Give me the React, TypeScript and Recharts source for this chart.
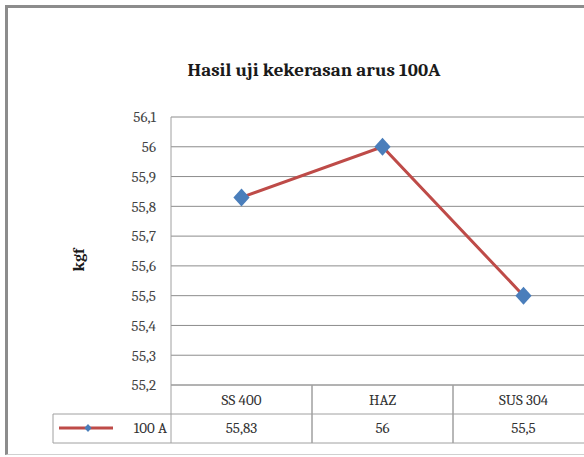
import React from 'react';
import { LineChart, Line, XAxis, YAxis, CartesianGrid } from 'recharts';

const categories = ['SS 400', 'HAZ', 'SUS 304'];
const hardness100A = [55.83, 56, 55.5];
const seriesName = '100 A';
const yTicks = [55.2, 55.3, 55.4, 55.5, 55.6, 55.7, 55.8, 55.9, 56, 56.1];

const data = categories.map((name, i) => ({ name, value: hardness100A[i] }));

// comma decimals, like the source sheet
const fmt = (v: number) => String(Number(v.toFixed(2))).replace('.', ',');

const CHART_W = 640;
const CHART_H = 457;
const PLOT_LEFT = 171;
const PLOT_RIGHT = 594;
const CELL = (PLOT_RIGHT - PLOT_LEFT) / categories.length;
const ROW = 29;
const FONT = 'Caladea, Cambria, "Liberation Serif", serif';
const LINE_RED = '#be4b48';
const MARKER_BLUE = '#4a7ebb';
const TABLE_GRAY = '#a0a0a0';

const Diamond = (props: any) => {
  const { cx, cy, size = 9 } = props;
  if (cx == null || cy == null) return null;
  const w = size * 0.9;
  return (
    <polygon
      points={`${cx},${cy - size} ${cx + w},${cy} ${cx},${cy + size} ${cx - w},${cy}`}
      fill={MARKER_BLUE}
    />
  );
};

// x-axis tick draws one column of the data table
const TableTick = (props: any) => {
  const { x, y, index } = props;
  const half = CELL / 2;
  const l = x - half;
  const r = x + half;
  return (
    <g style={{ fontFamily: FONT }} fontSize={15} fill="#333">
      <line x1={l} y1={y} x2={l} y2={y + ROW * 2} stroke={TABLE_GRAY} />
      <line x1={r} y1={y} x2={r} y2={y + ROW * 2} stroke={TABLE_GRAY} />
      <line x1={l} y1={y + ROW} x2={r} y2={y + ROW} stroke={TABLE_GRAY} />
      <line x1={l} y1={y + ROW * 2} x2={r} y2={y + ROW * 2} stroke={TABLE_GRAY} />
      <text x={x} y={y + 20} textAnchor="middle" style={{ fontFamily: FONT }}>{categories[index]}</text>
      <text x={x} y={y + ROW + 19} textAnchor="middle" style={{ fontFamily: FONT }}>{fmt(hardness100A[index])}</text>
      {index === 0 && (
        <g>
          <line x1={53} y1={y + ROW} x2={l} y2={y + ROW} stroke={TABLE_GRAY} />
          <line x1={53} y1={y + ROW * 2} x2={l} y2={y + ROW * 2} stroke={TABLE_GRAY} />
          <line x1={53} y1={y + ROW} x2={53} y2={y + ROW * 2} stroke={TABLE_GRAY} />
          <line x1={59} y1={y + ROW + 14} x2={113} y2={y + ROW + 14} stroke={LINE_RED} strokeWidth={3} />
          <Diamond cx={88} cy={y + ROW + 14} size={4} />
          <text x={167} y={y + ROW + 19} textAnchor="end" style={{ fontFamily: FONT }}>{seriesName}</text>
        </g>
      )}
    </g>
  );
};

export default function App() {
  return (
    <div
      style={{
        position: 'absolute',
        left: 0,
        top: 0,
        width: 584,
        height: 457,
        overflow: 'hidden',
        background: '#fff',
        fontFamily: FONT,
      }}
    >
      <div
        style={{
          position: 'absolute',
          left: 5,
          top: 5,
          width: 700,
          height: 446,
          borderLeft: '3px solid #8c8c8c',
          borderTop: '3px solid #8c8c8c',
          borderBottom: '1px solid #d0d0d0',
        }}
      />
      <div style={{ position: 'absolute', left: 0, top: 0 }}>
        <LineChart
          width={CHART_W}
          height={CHART_H}
          data={data}
          margin={{ top: 117, right: CHART_W - PLOT_RIGHT, bottom: 12, left: 0 }}
        >
          <text
            x={314}
            y={76}
            textAnchor="middle"
            style={{ fontFamily: FONT }}
            fontSize={19}
            fontWeight="bold"
            fill="#1a1a1a"
          >
            Hasil uji kekerasan arus 100A
          </text>
          <text
            x={84}
            y={260}
            transform="rotate(-90 84 260)"
            textAnchor="middle"
            style={{ fontFamily: FONT }}
            fontSize={16}
            fontWeight="bold"
            fill="#1a1a1a"
          >
            kgf
          </text>
          <CartesianGrid vertical={false} stroke="#8c8c8c" />
          <XAxis
            dataKey="name"
            height={60}
            padding={{ left: CELL / 2, right: CELL / 2 }}
            axisLine={{ stroke: TABLE_GRAY }}
            tickLine={false}
            tickSize={0}
            tickMargin={0}
            interval={0}
            tick={<TableTick />}
          />
          <YAxis
            width={PLOT_LEFT}
            domain={[55.2, 56.1]}
            ticks={yTicks}
            tickFormatter={fmt}
            axisLine={{ stroke: TABLE_GRAY }}
            tickLine={false}
            tickMargin={9}
            tick={{ fontSize: 15, fill: '#444', style: { fontFamily: FONT } }}
          />
          <Line
            type="linear"
            dataKey="value"
            stroke={LINE_RED}
            strokeWidth={3}
            dot={<Diamond size={9} />}
            activeDot={false}
            isAnimationActive={false}
          />
        </LineChart>
      </div>
    </div>
  );
}
